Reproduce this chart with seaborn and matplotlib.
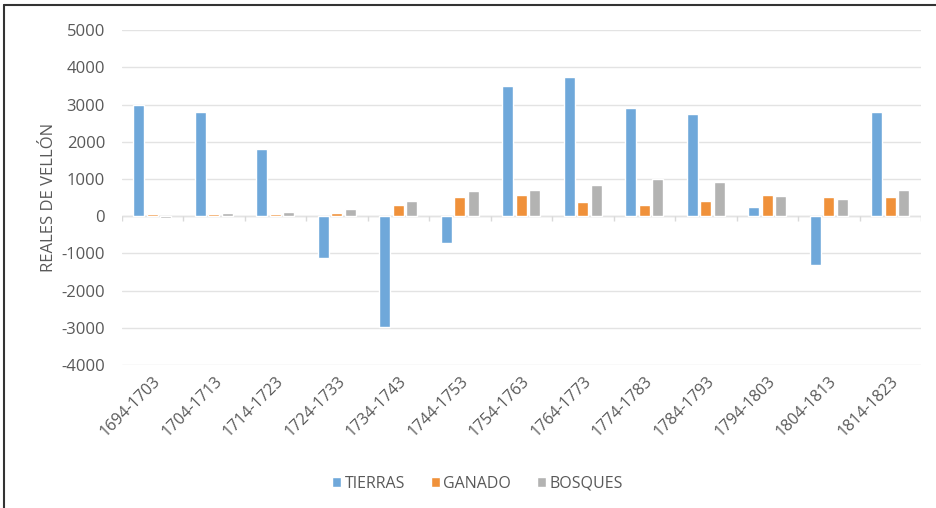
import numpy as np
import pandas as pd
import matplotlib.pyplot as plt
import seaborn as sns
from matplotlib.lines import Line2D

#Data
periods = ['1694-1703', '1704-1713', '1714-1723', '1724-1733', '1734-1743',
           '1744-1753', '1754-1763', '1764-1773', '1774-1783', '1784-1793',
           '1794-1803', '1804-1813', '1814-1823']
tierras = [3000, 2790, 1820, -1120, -2980, -730, 3500, 3730, 2920, 2750, 250, -1320, 2790]
ganado = [50, 50, 50, 80, 310, 520, 580, 375, 310, 420, 580, 515, 515]
bosques = [-45, 80, 115, 190, 420, 690, 710, 846, 990, 917, 545, 455, 710]
series = ['TIERRAS', 'GANADO', 'BOSQUES']
colors = ['#6FA8DA', '#F0913A', '#B3B3B2']

#Long form dataframe for seaborn
df = pd.DataFrame({'periodo': periods * 3,
                   'valor': tierras + ganado + bosques,
                   'serie': np.repeat(series, len(periods))})

sns.set_style('white')
plt.rcParams['font.family'] = ['Open Sans', 'DejaVu Sans']
plt.rcParams['axes.unicode_minus'] = False
grey = '#595959'

fig = plt.figure(figsize=(9.36, 5.08), dpi=100)
ax = fig.add_axes([0.130, 0.2815, 0.854, 0.659])

sns.barplot(data=df, x='periodo', y='valor', hue='serie',
            palette=dict(zip(series, colors)), width=0.66, gap=0.18,
            saturation=1, ax=ax, legend=True)

ax.set_ylim(-4000, 5000)
ax.set_yticks(range(-4000, 5001, 1000))
ax.set_xlim(-0.5, len(periods) - 0.5)
ax.yaxis.grid(True, color='#E3E3E3', linewidth=1)
ax.set_axisbelow(True)
for s in ax.spines.values():
    s.set_visible(False)

#zero line with small ticks between groups
ax.axhline(0, color='#D9D9D9', linewidth=1, zorder=0.5)
ax.vlines(np.arange(-0.5, len(periods)), -130, 0, color='#D9D9D9', linewidth=1)

ax.tick_params(axis='both', length=0, labelcolor=grey)
ax.tick_params(axis='y', labelsize=12, pad=12)
ax.tick_params(axis='x', labelsize=11.5, pad=6)
plt.setp(ax.get_xticklabels(), rotation=45, ha='right', rotation_mode='anchor')
ax.set_xlabel('')
ax.set_ylabel('REALES DE VELLÓN', color=grey, fontsize=12, labelpad=3)

handles, labels = ax.get_legend_handles_labels()
ax.get_legend().remove()
fig.legend(handles, labels, loc='center', bbox_to_anchor=(0.51, 0.048), ncol=3,
           frameon=False, fontsize=11.5, handlelength=0.6, handleheight=0.6,
           handletextpad=0.2, columnspacing=1.6, labelcolor=grey)

#frame lines on top and left of the picture
fig.add_artist(Line2D([0.004, 0.004], [0, 0.99], color='#333333', linewidth=1.5))
fig.add_artist(Line2D([0.004, 1], [0.99, 0.99], color='#333333', linewidth=1.5))

plt.savefig('out.png', dpi=100)
